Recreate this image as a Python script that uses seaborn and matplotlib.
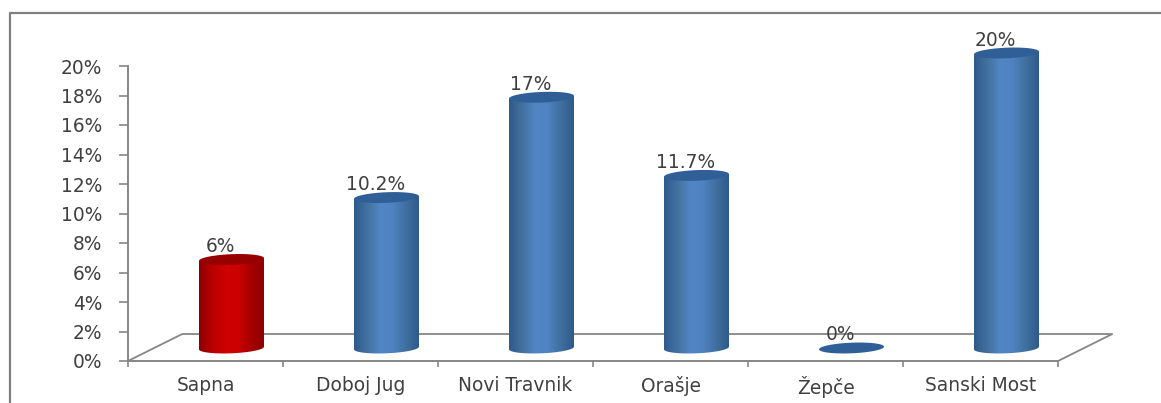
import numpy as np
import pandas as pd
import seaborn as sns
import matplotlib.pyplot as plt
from matplotlib.lines import Line2D
from matplotlib.patches import Polygon
from matplotlib.colors import LinearSegmentedColormap

categories = ['Sapna', 'Doboj Jug', 'Novi Travnik', 'Orašje', 'Žepče', 'Sanski Most']
values = [6, 10.2, 17, 11.7, 0, 20]
value_labels = ['6%', '10.2%', '17%', '11.7%', '0%', '20%']
y_ticks = list(range(0, 21, 2))
y_tick_labels = [f'{v}%' for v in y_ticks]

W, H = 1161, 403
GRAY = '#868686'
TEXT = '#404040'
FONT = 'DejaVu Sans'
FS = 13.4

sns.set_theme(style='white')
plt.rcParams['font.family'] = [FONT]

fig = plt.figure(figsize=(W / 100, H / 100), dpi=100, facecolor='white')


def axes_px(x0, y0, x1, y1):
    return fig.add_axes([x0 / W, 1 - y1 / H, (x1 - x0) / W, (y1 - y0) / H])


# outer frame, no bottom or right side in the picture
fig.add_artist(Line2D([10 / W, 10 / W, 1], [0, 1 - 13 / H, 1 - 13 / H], color='#808080', lw=1.6))

# axis with the floor of the fake 3d chart
ax = axes_px(128, 66, 1058, 361)
ax.set_xlim(-0.5, 5.5)
ax.set_ylim(0, 20)
ax.patch.set_alpha(0)
sns.despine(ax=ax, top=True, right=True)
for s in ['left', 'bottom']:
    ax.spines[s].set_color(GRAY)
    ax.spines[s].set_linewidth(1.4)
ax.set_yticks(y_ticks)
ax.set_yticklabels(y_tick_labels, fontsize=FS, color=TEXT)
ax.tick_params(axis='y', left=True, length=6.5, width=1.2, color=GRAY, pad=12)
ax.set_xticks(np.arange(-0.5, 6, 1))
ax.set_xticklabels([])
ax.tick_params(axis='x', which='major', bottom=True, length=4.5, width=1.2, color=GRAY)
ax.set_xticks(np.arange(len(categories)), minor=True)
ax.set_xticklabels(categories, minor=True, fontsize=FS, color=TEXT)
ax.tick_params(axis='x', which='minor', bottom=False, length=0, pad=11)

dx, dy = 0.35, 1.83
ax.plot([-0.5, -0.5 + dx, 5.5 + dx, 5.5], [0, dy, dy, 0], color=GRAY, lw=1.3, clip_on=False)

# bars live on a copy of the axis shifted up and right
bx = axes_px(128 + 26, 66 - 13, 1058 + 26, 361 - 13)
df = pd.DataFrame({'place': categories, 'value': values})
colors = ['#c00000'] + ['#4f81bd'] * 5
sns.barplot(data=df, x='place', y='value', hue='place', palette=colors, legend=False,
            width=65 / 155, ax=bx, saturation=1)
bx.set_xlim(-0.5, 5.5)
bx.set_ylim(0, 20)
bx.axis('off')

red_cm = LinearSegmentedColormap.from_list('r', ['#8c0000', '#b80000', '#cf0000', '#cc0000', '#a80000', '#900000'])
blue_cm = LinearSegmentedColormap.from_list('b', ['#2f5a8c', '#43719f', '#5186c4', '#4f82c0', '#40709f', '#2f5a8c'])
grad = np.linspace(0, 1, 128).reshape(1, -1)
b = 0.36      # ellipse half height, y units
shear = 0.09  # tilt of the ellipse, y units per half width

for i, (p, lab) in enumerate(zip(bx.patches[:len(categories)], value_labels)):
    x0, w, v = p.get_x(), p.get_width(), p.get_height()
    cx = x0 + w / 2
    # base arc left to right, then up the right side and back over the left
    a = np.linspace(np.pi, 2 * np.pi, 60)
    body = np.column_stack([cx + w / 2 * np.cos(a), b * np.sin(a) + shear * np.cos(a)])
    body = np.vstack([body, [[x0 + w, v + shear], [x0, v - shear]]])
    poly = Polygon(body, closed=True, transform=bx.transData, fc='none', ec='none')
    bx.add_patch(poly)
    p.set_visible(False)
    if v > 0:
        im = bx.imshow(grad, cmap=red_cm if i == 0 else blue_cm, aspect='auto',
                       extent=[x0, x0 + w, -1, v + 1], zorder=2)
        im.set_clip_path(poly)
        im.set_clip_box(fig.bbox)
    a = np.linspace(0, 2 * np.pi, 80)
    bx.fill(cx + w / 2 * np.cos(a), v + b * np.sin(a) + shear * np.cos(a),
            color='#960000' if i == 0 else '#2f5f96', lw=0, zorder=3, clip_on=False)
    bx.annotate(lab, (cx, v), xytext=(-11, 13), textcoords='offset pixels',
                ha='center', va='center', fontsize=FS, color=TEXT, annotation_clip=False, zorder=5)

bx.set_xlim(-0.5, 5.5)
bx.set_ylim(0, 20)

fig.savefig('out.png', dpi=100)
